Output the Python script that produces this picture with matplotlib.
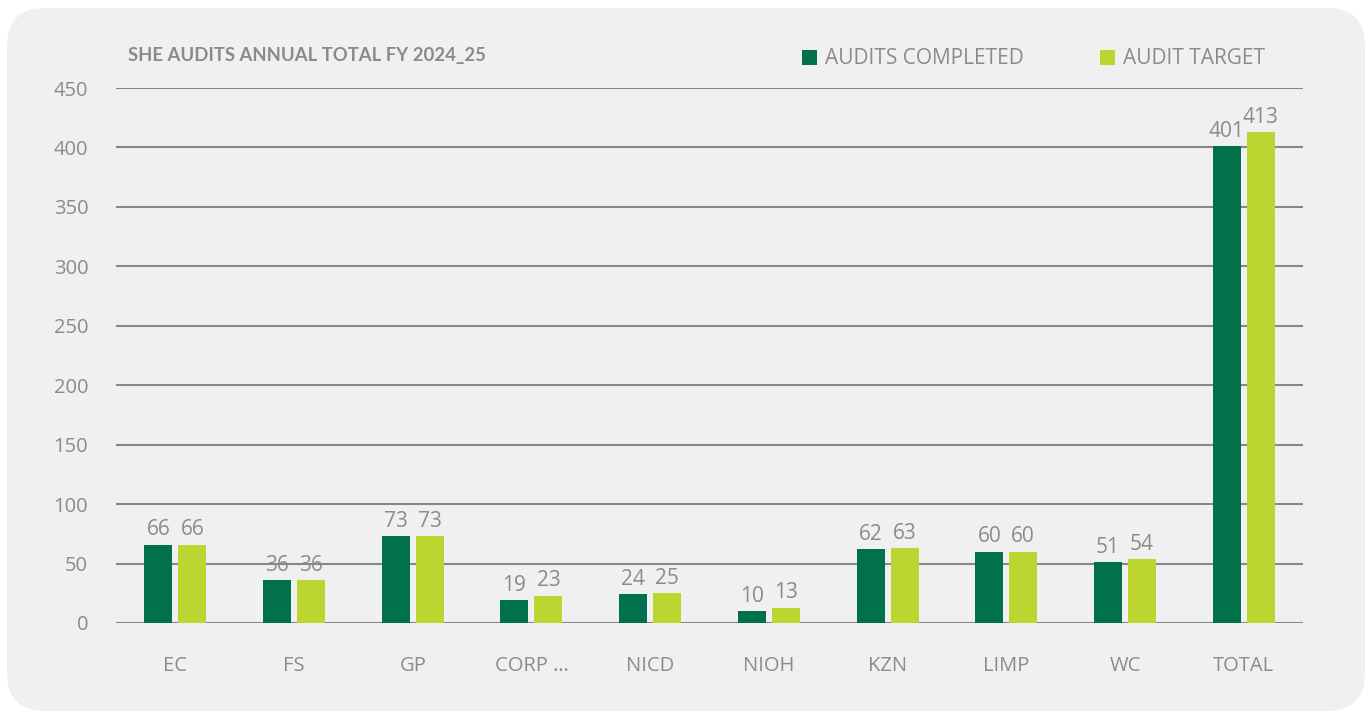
import matplotlib
matplotlib.use("Agg")
import matplotlib.pyplot as plt
from matplotlib.patches import FancyBboxPatch, Rectangle
import numpy as np

categories = ["EC", "FS", "GP", "CORP …", "NICD", "NIOH", "KZN", "LIMP", "WC", "TOTAL"]
completed = [66, 36, 73, 19, 24, 10, 62, 60, 51, 401]
target = [66, 36, 73, 23, 25, 13, 63, 60, 54, 413]
yticks = [0, 50, 100, 150, 200, 250, 300, 350, 400, 450]

DARK = "#00714A"
LIGHT = "#BDD531"
TXT = "#8C8A8A"
GRID = "#878787"

plt.rcParams['font.family'] = ['Open Sans', 'DejaVu Sans']

W, H = 1370, 715
fig = plt.figure(figsize=(W / 100, H / 100), dpi=100)
fig.patch.set_facecolor("white")

bg = FancyBboxPatch((7, 4), 1358, 703,
                    boxstyle="round,pad=0,rounding_size=38",
                    transform=None, facecolor="#F0F0F0",
                    edgecolor="none", zorder=-5)
fig.patches.append(bg)

ax = fig.add_axes([116 / W, 1 - 623 / H, (1303 - 116) / W, (623 - 88) / H])
ax.set_facecolor("none")
ax.set_zorder(2)
ax.set_xlim(-0.5, len(categories) - 0.5)
ax.set_ylim(0, 450)

x = np.arange(len(categories))
bw = 0.236
gap = 0.05
off = (bw + gap) / 2
b1 = ax.bar(x - off, completed, bw, color=DARK, zorder=3)
b2 = ax.bar(x + off, target, bw, color=LIGHT, zorder=3)

ax.bar_label(b1, labels=[str(v) for v in completed], padding=3, color=TXT, fontsize=15)
ax.bar_label(b2, labels=[str(v) for v in target], padding=3, color=TXT, fontsize=15)

for s in ax.spines.values():
    s.set_visible(False)
ax.set_yticks(yticks)
ax.yaxis.grid(True, color=GRID, linewidth=1.5, zorder=1)
ax.set_axisbelow(True)
ax.tick_params(axis='y', length=0, pad=20, labelsize=14.5, labelcolor=TXT)
ax.set_xticks(x)
ax.set_xticklabels(categories)
ax.tick_params(axis='x', length=0, pad=24, labelsize=14.5, labelcolor=TXT)

fig.text(128 / W, 1 - 55 / H, "SHE AUDITS ANNUAL TOTAL FY 2024_25", fontsize=13.3,
         fontweight='bold', color=TXT, va='center', ha='left', family=['Lato', 'DejaVu Sans'])

# legend
for xs, label, col in [(802, "AUDITS COMPLETED", DARK), (1100, "AUDIT TARGET", LIGHT)]:
    fig.patches.append(Rectangle((xs / W, 1 - 65 / H), 15 / W, 15 / H,
                                 transform=fig.transFigure, facecolor=col, edgecolor='none'))
    fig.text((xs + 23) / W, 1 - 58 / H, label, fontsize=15, color=TXT, va='center', ha='left')

fig.savefig("out.png", dpi=100, facecolor=fig.get_facecolor())
